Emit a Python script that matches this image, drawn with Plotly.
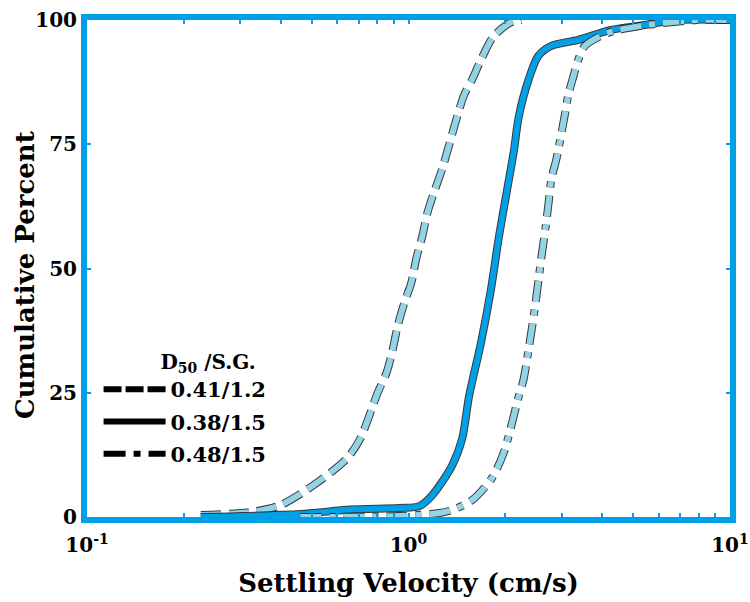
import plotly.graph_objects as go

# ---- data ----
v_041_12 = [0.226, 0.323, 0.400, 0.506, 0.644, 0.707, 0.802, 0.855, 0.893, 0.925, 0.972, 1.021,
            1.059, 1.105, 1.145, 1.203, 1.274, 1.416, 1.489, 1.577, 1.692, 1.843, 2.094, 2.25]
p_041_12 = [0.4, 1.0, 2.4, 6.4, 11.8, 15.7, 25.0, 29.1, 33.7, 38.4, 43.2, 47.2,
            52.2, 56.6, 61.2, 65.5, 70.1, 80.5, 84.9, 88.0, 92.4, 96.8, 99.6, 100]

v_038_15 = [0.226, 0.461, 0.658, 0.938, 1.081, 1.186, 1.367, 1.468, 1.543, 1.680, 1.803, 1.909,
            2.022, 2.125, 2.202, 2.363, 2.536, 2.782, 3.372, 4.264, 5.43, 6.86, 10.0]
p_038_15 = [0.0, 0.6, 1.5, 1.8, 2.2, 4.4, 10.4, 15.7, 24.3, 35.0, 45.6, 56.2,
            65.5, 73.5, 80.5, 88.0, 92.8, 94.8, 96.0, 98.0, 99.0, 100, 100]

v_048_15 = [0.461, 0.938, 1.25, 1.367, 1.577, 1.816, 1.979, 2.202, 2.28, 2.363, 2.415, 2.483,
            2.536, 2.59, 2.668, 2.725, 2.782, 2.884, 3.075, 3.14, 3.25, 3.372, 3.54, 4.17, 5.54, 7.91, 10.0]
p_048_15 = [0.0, 0.2, 0.8, 1.4, 3.4, 7.8, 13.0, 24.3, 27.7, 33.7, 37.6, 43.0,
            47.6, 52.2, 58.2, 63.0, 68.0, 72.0, 81.5, 84.9, 88.4, 92.0, 94.8, 97.4, 99.0, 100, 100]

labels = ["0.41/1.2", "0.38/1.5", "0.48/1.5"]
x_tickvals = [0.1, 1, 10]
x_ticktext = ["10<sup>-1</sup>", "10<sup>0</sup>", "10<sup>1</sup>"]
x_minor_vals = [0.2, 0.3, 0.4, 0.5, 0.6, 0.7, 0.8, 0.9, 2, 3, 4, 5, 6, 7, 8, 9]
y_tickvals = [0, 25, 50, 75, 100]

BLUE = "#00A0E6"
LIGHT = "#92D3E6"
EDGE = "rgba(35,35,35,0.9)"
FONT = "DejaVu Serif"

series = [
    (v_041_12, p_041_12, labels[0], LIGHT, "20px,8px"),
    (v_038_15, p_038_15, labels[1], BLUE, "solid"),
    (v_048_15, p_048_15, labels[2], LIGHT, "21px,8px,6px,8px"),
]

fig = go.Figure()
for xs, ys, name, col, dash in series:
    fig.add_trace(go.Scatter(x=xs, y=ys, mode="lines",
                             line=dict(color=EDGE, width=8, dash=dash, shape="spline", smoothing=0.8),
                             showlegend=False, hoverinfo="skip"))
    fig.add_trace(go.Scatter(x=xs, y=ys, mode="lines",
                             line=dict(color=col, width=6, dash=dash, shape="spline", smoothing=0.8),
                             showlegend=False, name=name))

legend_dash = ["18px,4px", "solid", "22px,8px,7px,8px"]
for i, (name, d) in enumerate(zip(labels, legend_dash)):
    fig.add_trace(go.Scatter(x=[None], y=[None], mode="lines", name=name, legendgroup=f"g{i}",
                             line=dict(color="black", width=6, dash=d)))

axis_common = dict(showline=True, linecolor=BLUE, linewidth=6, mirror="ticks", automargin=False,
                   ticks="inside", tickcolor=BLUE, ticklen=4, tickwidth=1.5, showgrid=False, zeroline=False,
                   tickfont=dict(family=FONT, size=20, color="black", weight="bold"))

fig.update_xaxes(type="log", range=[-1, 1], tickvals=x_tickvals, ticktext=x_ticktext,
                 minor=dict(tickvals=x_minor_vals, ticks="inside", ticklen=4, tickcolor=BLUE,
                            tickwidth=1.5, showgrid=False),
                 ticklabelstandoff=5,
                 title=dict(text="Settling Velocity (cm/s)",
                            font=dict(family=FONT, size=26, color="black", weight="bold"), standoff=20),
                 **axis_common)
fig.update_yaxes(range=[0, 100], tickvals=y_tickvals, ticklabelstandoff=0, **axis_common)

fig.add_annotation(text="Cumulative Percent", xref="paper", yref="paper", x=-0.0964, y=0.487,
                   xanchor="center", yanchor="middle", textangle=-90, showarrow=False,
                   font=dict(family=FONT, size=26, color="black", weight="bold"))

fig.update_layout(
    width=750, height=602,
    margin=dict(l=87, r=20, t=20, b=85),
    plot_bgcolor="white", paper_bgcolor="white",
    font=dict(family=FONT, color="black"),
    showlegend=True,
    legend=dict(x=0.018, y=0.35, xanchor="left", yanchor="top", bgcolor="rgba(0,0,0,0)",
                itemwidth=62, tracegroupgap=2, traceorder="grouped",
                font=dict(family=FONT, size=21, color="black", weight="bold"),
                title=dict(text="D<sub>50</sub> /S.G.\u00a0\u00a0", side="top right",
                           font=dict(family=FONT, size=20, color="black", weight="bold"))),
)

fig.write_html("out.html")
